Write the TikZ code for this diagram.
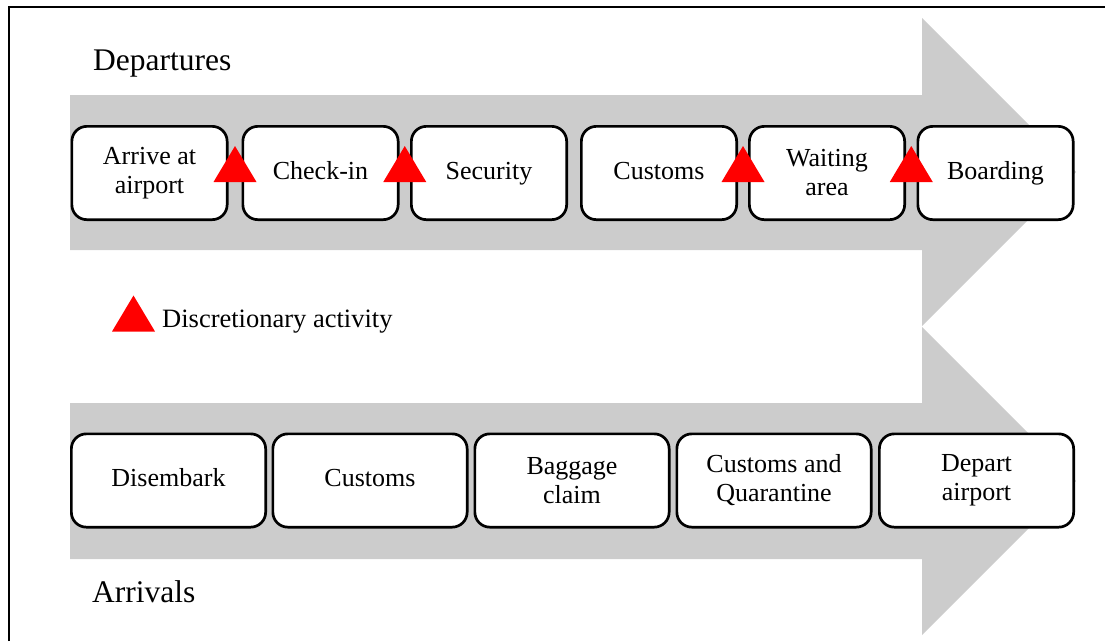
\documentclass[tikz,border=0pt]{standalone}
\usepackage{fontspec}
\setmainfont{Liberation Serif}
\usetikzlibrary{calc}
\definecolor{flowgray}{RGB}{204,204,204}
\definecolor{discred}{RGB}{255,0,0}

\begin{document}
\begin{tikzpicture}[x=1pt,y=-1pt,
  stage/.style={draw=black, line width=2.7pt, fill=white, rounded corners=15pt,
    minimum width=155.3pt, minimum height=93.3pt, align=center, inner sep=0pt,
    font=\fontsize{26}{29}\selectfont},
  oneline/.style={text height=17.8pt, text depth=5.7pt},
  widestage/.style={stage, minimum width=194.3pt},
  flow/.style={fill=flowgray},
  heading/.style={anchor=base west, inner sep=0pt, font=\fontsize{31.5}{36}\selectfont},
  legendtext/.style={anchor=base west, inner sep=0pt, font=\fontsize{26.5}{30}\selectfont},
  ddmark/.pic={\fill[discred] (-21.5,18) -- (21.5,18) -- (0,-18) -- cycle;},
]
\useasboundingbox (0,0) rectangle (1105,641);

% frame
\draw[line width=2pt] (9,641) -- (9,7) -- (1105,7);

% flow arrows
\fill[flow] (70,95) -- (922,95) -- (922,18) -- (1076,172) -- (922,326)
  -- (922,250) -- (70,250) -- cycle;
\fill[flow] (70,403) -- (922,403) -- (922,327) -- (1076,481) -- (922,635)
  -- (922,559) -- (70,559) -- cycle;

% headings
\node[heading] (dep) at (93,70) {Departures};
\node[heading] (arrv) at (92,602) {Arrivals};

% departures row
\node[stage] (arr) at (149.5,173) {Arrive at\\airport};
\node[stage, oneline] (chk) at (320.5,173) {Check-in};
\node[stage, oneline] (sec) at (489,173) {Security};
\node[stage, oneline] (cus) at (659,173) {Customs};
\node[stage] (wai) at (827,173) {Waiting\\area};
\node[stage, oneline] (brd) at (995.5,173) {Boarding};

% discretionary activity markers
\pic at ($(arr.east)!0.5!(chk.west)+(0,-9)$) {ddmark};
\pic at ($(chk.east)!0.5!(sec.west)+(0,-9)$) {ddmark};
\pic at ($(cus.east)!0.5!(wai.west)+(0,-9)$) {ddmark};
\pic at ($(wai.east)!0.5!(brd.west)+(0,-9)$) {ddmark};

% legend
\pic at (133.5,313.5) {ddmark};
\node[legendtext] (leg) at (162,327) {Discretionary activity};

% arrivals row
\node[widestage, oneline] (dis) at (168.5,480.5) {Disembark};
\node[widestage, oneline] (cua) at (370,480.5) {Customs};
\node[widestage] (bag) at (572,480.5) {Baggage\\claim};
\node[widestage] (quar) at (774,480.5) {Customs and\\Quarantine};
\node[widestage] (dpa) at (976.5,480.5) {Depart\\airport};
\end{tikzpicture}
\end{document}
